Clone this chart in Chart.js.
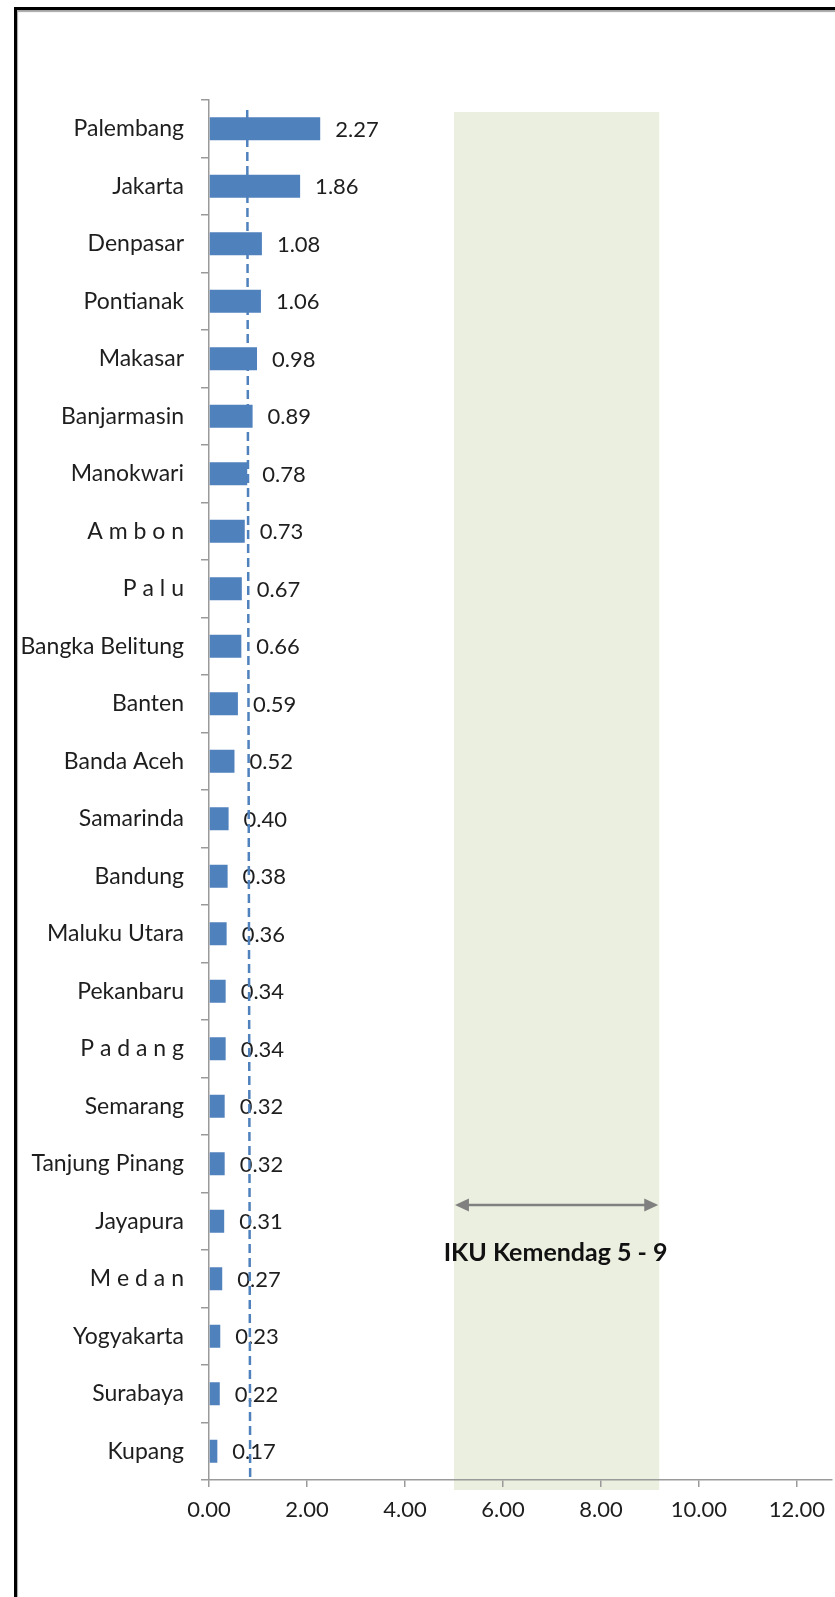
<!DOCTYPE html>
<html>
<head>
<meta charset="utf-8">
<script src="https://cdn.jsdelivr.net/npm/chart.js@4.4.1/dist/chart.umd.min.js"></script>
<style>
  html, body { margin: 0; padding: 0; background: #ffffff; }
  #wrap { position: relative; width: 835px; height: 1597px; overflow: hidden; }
  #c { position: absolute; left: 0; top: 0; }
  #frame { position: absolute; left: 14px; top: 7px; width: 900px; height: 1700px;
           border-top: 3px solid #000; border-left: 3px solid #000;
           box-shadow: inset 1px 2px 1px rgba(0,0,0,0.35); pointer-events: none; }
</style>
</head>
<body>
<div id="wrap">
  <canvas id="c" width="835" height="1597"></canvas>
  <div id="frame"></div>
</div>
<script>
const categories = ["Palembang", "Jakarta", "Denpasar", "Pontianak", "Makasar", "Banjarmasin",
  "Manokwari", "A m b o n", "P a l u", "Bangka Belitung", "Banten", "Banda Aceh", "Samarinda",
  "Bandung", "Maluku Utara", "Pekanbaru", "P a d a n g", "Semarang", "Tanjung Pinang",
  "Jayapura", "M e d a n", "Yogyakarta", "Surabaya", "Kupang"];
const values = [2.27, 1.86, 1.08, 1.06, 0.98, 0.89, 0.78, 0.73, 0.67, 0.66, 0.59, 0.52, 0.40,
  0.38, 0.36, 0.34, 0.34, 0.32, 0.32, 0.31, 0.27, 0.23, 0.22, 0.17];
const xTicks = [0, 2, 4, 6, 8, 10, 12];
const averageLine = [0.78, 0.84];      // dashed reference line (top, bottom)
const targetBand = [5, 9.19];          // IKU Kemendag target range
const targetLabel = "IKU Kemendag 5 - 9";

const FONT = "Lato, 'Open Sans', sans-serif";
const GRAY = "#9a9a9a";
const BLUE = "#4F81BD";

const bandPlugin = {
  id: "band",
  beforeDraw(chart) {
    const ctx = chart.ctx, xs = chart.scales.x, ca = chart.chartArea;
    const x0 = xs.getPixelForValue(targetBand[0]);
    const x1 = xs.getPixelForValue(targetBand[1]);
    ctx.save();
    ctx.fillStyle = "#EBEFDF";
    ctx.fillRect(x0, ca.top + 12, x1 - x0, ca.bottom + 10 - (ca.top + 12));
    ctx.restore();
  }
};

const overlayPlugin = {
  id: "overlay",
  afterDatasetsDraw(chart) {
    const ctx = chart.ctx, xs = chart.scales.x, ca = chart.chartArea;
    const meta = chart.getDatasetMeta(0);
    ctx.save();
    // value labels
    ctx.font = "22px " + FONT;
    ctx.fillStyle = "#1e1e1e";
    ctx.textBaseline = "middle";
    ctx.textAlign = "left";
    meta.data.forEach((bar, i) => {
      ctx.fillText(values[i].toFixed(2), bar.x + 15, bar.y + 1);
    });
    // dashed average line
    ctx.strokeStyle = BLUE;
    ctx.lineWidth = 2.5;
    ctx.setLineDash([9, 5]);
    ctx.beginPath();
    ctx.moveTo(xs.getPixelForValue(averageLine[0]), ca.top + 10);
    ctx.lineTo(xs.getPixelForValue(averageLine[1]), ca.bottom);
    ctx.stroke();
    ctx.setLineDash([]);
    // double arrow
    const ax0 = xs.getPixelForValue(targetBand[0]) + 1;
    const ax1 = xs.getPixelForValue(targetBand[1]) - 1;
    const ay = ca.top + (ca.bottom - ca.top) * 0.8007;
    const head = 14, hh = 6.5;
    ctx.strokeStyle = "#808080";
    ctx.fillStyle = "#808080";
    ctx.lineWidth = 2.5;
    ctx.beginPath();
    ctx.moveTo(ax0 + head - 2, ay);
    ctx.lineTo(ax1 - head + 2, ay);
    ctx.stroke();
    ctx.beginPath();
    ctx.moveTo(ax0, ay); ctx.lineTo(ax0 + head, ay - hh); ctx.lineTo(ax0 + head, ay + hh); ctx.closePath();
    ctx.fill();
    ctx.beginPath();
    ctx.moveTo(ax1, ay); ctx.lineTo(ax1 - head, ay - hh); ctx.lineTo(ax1 - head, ay + hh); ctx.closePath();
    ctx.fill();
    // label
    ctx.font = "bold 25px " + FONT;
    ctx.fillStyle = "#111111";
    ctx.textAlign = "center";
    ctx.fillText(targetLabel, (ax0 + ax1) / 2 - 1, ay + 48);
    ctx.restore();
  }
};

new Chart(document.getElementById("c"), {
  type: "bar",
  data: {
    labels: categories,
    datasets: [{
      data: values,
      backgroundColor: BLUE,
      borderWidth: 0,
      barPercentage: 0.4,
      categoryPercentage: 1.0
    }]
  },
  options: {
    indexAxis: "y",
    responsive: false,
    animation: false,
    layout: { padding: { top: 100, left: 0, right: 0, bottom: 57 } },
    plugins: { legend: { display: false }, tooltip: { enabled: false } },
    scales: {
      y: {
        afterFit(scale) { scale.width = 209; },
        grid: { offset: true, drawOnChartArea: false, drawTicks: true, tickLength: 8, color: GRAY, lineWidth: 1.5 },
        border: { display: true, color: GRAY, width: 1.5 },
        ticks: { color: "#1e1e1e", font: { family: FONT, size: 23 }, padding: 17, autoSkip: false }
      },
      x: {
        min: 0,
        max: 12.72,
        afterFit(scale) { scale.height = 60; },
        afterBuildTicks(scale) { scale.ticks = xTicks.map(v => ({ value: v })); },
        grid: { drawOnChartArea: false, drawTicks: true, tickLength: 7, color: GRAY, lineWidth: 1.5 },
        border: { display: true, color: GRAY, width: 1.5 },
        ticks: {
          color: "#1e1e1e", font: { family: FONT, size: 22 }, padding: 10,
          maxRotation: 0, autoSkip: false,
          callback: (v) => Number(v).toFixed(2)
        }
      }
    }
  },
  plugins: [bandPlugin, overlayPlugin]
});
</script>
</body>
</html>
